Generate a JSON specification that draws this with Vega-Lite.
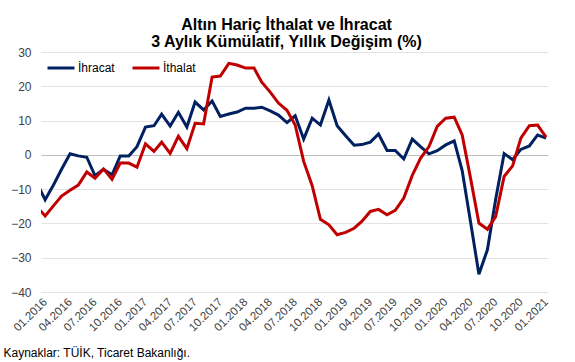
{
  "$schema": "https://vega.github.io/schema/vega-lite/v6.json",
  "width": 507,
  "height": 240,
  "autosize": {"type": "none"},
  "padding": {"left": 41, "top": 52, "right": 27, "bottom": 70},
  "background": "white",
  "config": {"view": {"stroke": null}, "font": "Liberation Sans"},
  "title": {
    "text": ["Altın Hariç İthalat ve İhracat", "3 Aylık Kümülatif, Yıllık Değişim (%)"],
    "fontSize": 16,
    "fontWeight": "bold",
    "color": "#000000",
    "anchor": "middle",
    "dx": -8,
    "dy": 12,
    "lineHeight": 17,
    "offset": 8
  },
  "data": {
    "values": [
      {"d": "2015-12-01", "İhracat": -8.1, "İthalat": -15.1},
      {"d": "2016-01-01", "İhracat": -13.1, "İthalat": -17.8},
      {"d": "2016-02-01", "İhracat": -8.7, "İthalat": -14.8},
      {"d": "2016-03-01", "İhracat": -4.2, "İthalat": -12.0},
      {"d": "2016-04-01", "İhracat": 0.3, "İthalat": -10.3},
      {"d": "2016-05-01", "İhracat": -0.3, "İthalat": -8.8},
      {"d": "2016-06-01", "İhracat": -0.7, "İthalat": -5.0},
      {"d": "2016-07-01", "İhracat": -6.1, "İthalat": -6.8},
      {"d": "2016-08-01", "İhracat": -4.2, "İthalat": -4.1},
      {"d": "2016-09-01", "İhracat": -5.8, "İthalat": -7.1},
      {"d": "2016-10-01", "İhracat": -0.3, "İthalat": -2.4},
      {"d": "2016-11-01", "İhracat": -0.3, "İthalat": -2.4},
      {"d": "2016-12-01", "İhracat": 2.4, "İthalat": -3.6},
      {"d": "2017-01-01", "İhracat": 8.1, "İthalat": 3.2},
      {"d": "2017-02-01", "İhracat": 8.5, "İthalat": 1.0},
      {"d": "2017-03-01", "İhracat": 11.9, "İthalat": 3.7},
      {"d": "2017-04-01", "İhracat": 8.4, "İthalat": 0.4},
      {"d": "2017-05-01", "İhracat": 12.4, "İthalat": 5.4},
      {"d": "2017-06-01", "İhracat": 8.1, "İthalat": 1.8},
      {"d": "2017-07-01", "İhracat": 15.4, "İthalat": 9.2},
      {"d": "2017-08-01", "İhracat": 13.1, "İthalat": 9.0},
      {"d": "2017-09-01", "İhracat": 15.7, "İthalat": 22.7},
      {"d": "2017-10-01", "İhracat": 11.2, "İthalat": 23.0},
      {"d": "2017-11-01", "İhracat": 11.9, "İthalat": 26.7},
      {"d": "2017-12-01", "İhracat": 12.5, "İthalat": 26.2},
      {"d": "2018-01-01", "İhracat": 13.6, "İthalat": 25.3},
      {"d": "2018-02-01", "İhracat": 13.6, "İthalat": 25.3},
      {"d": "2018-03-01", "İhracat": 13.9, "İthalat": 21.2},
      {"d": "2018-04-01", "İhracat": 12.8, "İthalat": 18.3},
      {"d": "2018-05-01", "İhracat": 11.6, "İthalat": 15.1},
      {"d": "2018-06-01", "İhracat": 9.4, "İthalat": 13.0},
      {"d": "2018-07-01", "İhracat": 11.4, "İthalat": 8.7},
      {"d": "2018-08-01", "İhracat": 4.6, "İthalat": -1.9},
      {"d": "2018-09-01", "İhracat": 10.7, "İthalat": -9.0},
      {"d": "2018-10-01", "İhracat": 8.7, "İthalat": -18.8},
      {"d": "2018-11-01", "İhracat": 16.0, "İthalat": -20.4},
      {"d": "2018-12-01", "İhracat": 8.5, "İthalat": -23.3},
      {"d": "2019-01-01", "İhracat": 5.6, "İthalat": -22.6},
      {"d": "2019-02-01", "İhracat": 2.8, "İthalat": -21.4},
      {"d": "2019-03-01", "İhracat": 3.0, "İthalat": -19.4},
      {"d": "2019-04-01", "İhracat": 3.7, "İthalat": -16.5},
      {"d": "2019-05-01", "İhracat": 6.1, "İthalat": -15.9},
      {"d": "2019-06-01", "İhracat": 1.3, "İthalat": -17.5},
      {"d": "2019-07-01", "İhracat": 1.3, "İthalat": -16.2},
      {"d": "2019-08-01", "İhracat": -1.2, "İthalat": -12.6},
      {"d": "2019-09-01", "İhracat": 4.6, "İthalat": -6.0},
      {"d": "2019-10-01", "İhracat": 2.4, "İthalat": -1.0},
      {"d": "2019-11-01", "İhracat": 0.3, "İthalat": 2.4},
      {"d": "2019-12-01", "İhracat": 1.2, "İthalat": 8.3},
      {"d": "2020-01-01", "İhracat": 2.9, "İthalat": 10.7},
      {"d": "2020-02-01", "İhracat": 4.1, "İthalat": 11.0},
      {"d": "2020-03-01", "İhracat": -4.6, "İthalat": 5.8},
      {"d": "2020-04-01", "İhracat": -19.8, "İthalat": -7.0},
      {"d": "2020-05-01", "İhracat": -34.8, "İthalat": -19.9},
      {"d": "2020-06-01", "İhracat": -27.7, "İthalat": -21.7},
      {"d": "2020-07-01", "İhracat": -13.0, "İthalat": -18.0},
      {"d": "2020-08-01", "İhracat": 0.4, "İthalat": -6.3},
      {"d": "2020-09-01", "İhracat": -1.4, "İthalat": -3.2},
      {"d": "2020-10-01", "İhracat": 1.6, "İthalat": 4.9},
      {"d": "2020-11-01", "İhracat": 2.6, "İthalat": 8.5},
      {"d": "2020-12-01", "İhracat": 5.8, "İthalat": 8.7},
      {"d": "2021-01-01", "İhracat": 4.9, "İthalat": 5.2}
    ]
  },
  "transform": [{"fold": ["İhracat", "İthalat"], "as": ["s", "v"]}],
  "mark": {"type": "line", "strokeWidth": 3, "clip": true},
  "encoding": {
    "x": {
      "field": "d",
      "type": "temporal",
      "scale": {
        "type": "utc",
        "domain": [
          {"year": 2015, "month": 12, "date": 17, "utc": true},
          {"year": 2021, "month": 1, "date": 8, "utc": true}
        ]
      },
      "axis": {
        "title": "Kaynaklar: TÜİK, Ticaret Bakanlığı.",
        "titleFontSize": 12,
        "titleFontWeight": "normal",
        "titleColor": "#000000",
        "titleX": -38,
        "titleY": 64,
        "titleAlign": "left",
        "titleAnchor": null,
        "titleBaseline": "alphabetic",
        "format": "%m.%Y",
        "tickCount": {"interval": "month", "step": 3},
        "labelAngle": -45,
        "labelAlign": "right",
        "labelBaseline": "middle",
        "labelFontSize": 11.5,
        "labelColor": "#404040",
        "labelOverlap": false,
        "labelPadding": 8,
        "labelFlush": false,
        "grid": false,
        "domain": false,
        "ticks": false
      }
    },
    "y": {
      "field": "v",
      "type": "quantitative",
      "scale": {"domain": [-40, 30], "nice": false, "zero": false},
      "axis": {
        "title": null,
        "values": [-40, -30, -20, -10, 0, 10, 20, 30],
        "domain": false,
        "ticks": false,
        "labelFontSize": 12,
        "labelColor": "#404040",
        "labelPadding": 10,
        "gridColor": {"condition": {"test": "datum.value === 0", "value": "#bfbfbf"}, "value": "#e3e3e3"}
      }
    },
    "color": {
      "field": "s",
      "type": "nominal",
      "scale": {"domain": ["İhracat", "İthalat"], "range": ["#002060", "#c00000"]},
      "legend": {
        "title": null,
        "orient": "none",
        "legendX": 5,
        "legendY": 1,
        "direction": "horizontal",
        "symbolType": "stroke",
        "symbolSize": 729,
        "symbolStrokeWidth": 3,
        "labelFontSize": 12,
        "labelColor": "#000000",
        "labelOffset": 2,
        "columnPadding": 11,
        "padding": 0
      }
    }
  }
}
